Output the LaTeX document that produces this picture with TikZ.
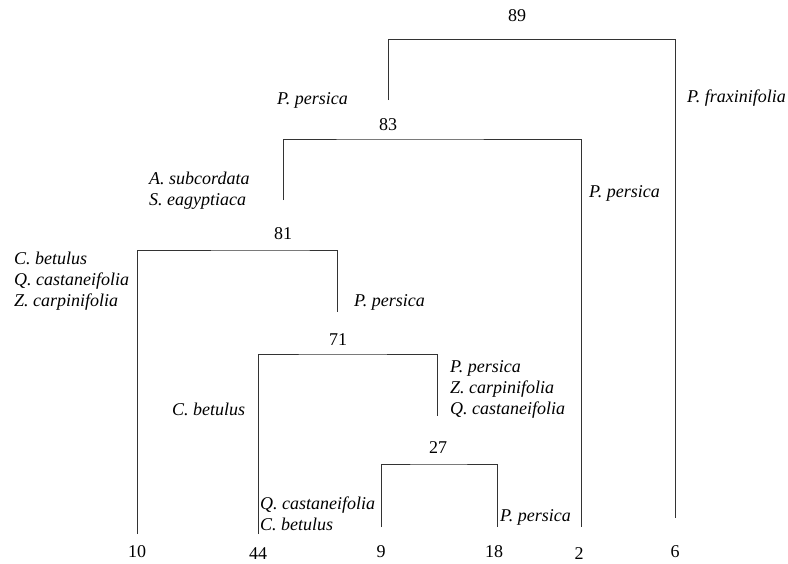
\documentclass[tikz,border=0pt]{standalone}
\usepackage{fontspec}
\setmainfont{Liberation Serif}

\begin{document}
\begin{tikzpicture}[x=1pt,y=-1pt,branch/.style={draw=black!80,line width=0.8pt},
    num/.style={font=\fontsize{18}{21}\selectfont,inner sep=0pt},
    taxa/.style={font=\fontsize{18}{21}\selectfont\itshape,inner sep=0pt,align=left,anchor=west}]
    \useasboundingbox (0,0) rectangle (788,563);
    % leaf ends and stems
    \coordinate (l10) at (137,534);
    \coordinate (l44) at (258,534);
    \coordinate (l9) at (381,527);
    \coordinate (l18) at (497,527);
    \coordinate (l2) at (581,527);
    \coordinate (l6) at (675,518);
    \coordinate (s71) at (437,416);
    \coordinate (s81) at (337,312);
    \coordinate (s83) at (283,200);
    \coordinate (s89) at (388,100);
    % joins
    \coordinate (j27) at (438,464);
    \coordinate (j71) at (338,354);
    \coordinate (j81) at (283,250);
    \coordinate (j83) at (388,139);
    \coordinate (j89) at (517,39.5);

    \draw[branch] (l9) |- (j27) -| (l18);
    \draw[branch] (l44) |- (j71) -| (s71);
    \draw[branch] (l10) |- (j81) -| (s81);
    \draw[branch] (s83) |- (j83) -| (l2);
    \draw[branch] (s89) |- (j89) -| (l6);

    % bootstrap numbers
    \node[num] (n27) at (438,448) {27};
    \node[num] (n71) at (338,340) {71};
    \node[num] (n81) at (283,234) {81};
    \node[num] (n83) at (388,125) {83};
    \node[num] (n89) at (517,16) {89};
    \node[num] (n10) at (137,552) {10};
    \node[num] (n44) at (258,554) {44};
    \node[num] (n9) at (381,552) {9};
    \node[num] (n18) at (494,552) {18};
    \node[num] (n2) at (579,554) {2};
    \node[num] (n6) at (675,552) {6};

    % species
    \node[taxa] (t1) at (277,100) {P. persica};
    \node[taxa] (t2) at (687,98) {P. fraxinifolia};
    \node[taxa] (t3) at (149,191) {A. subcordata\\S. eagyptiaca};
    \node[taxa] (t4) at (589,193) {P. persica};
    \node[taxa] (t5) at (14,281) {C. betulus\\Q. castaneifolia\\Z. carpinifolia};
    \node[taxa] (t6) at (354,302) {P. persica};
    \node[taxa] (t7) at (172,409) {C. betulus};
    \node[taxa] (t8) at (450,389) {P. persica\\Z. carpinifolia\\Q. castaneifolia};
    \node[taxa] (t9) at (260,514) {Q. castaneifolia\\C. betulus};
    \node[taxa] (t10) at (500,517) {P. persica};
\end{tikzpicture}
\end{document}
